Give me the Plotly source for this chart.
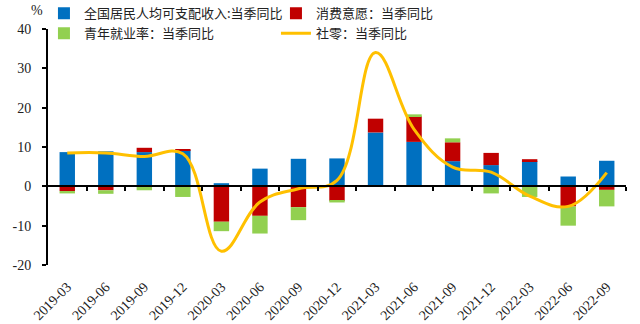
import plotly.graph_objects as go

quarters = ["2019-03", "2019-06", "2019-09", "2019-12", "2020-03", "2020-06", "2020-09",
            "2020-12", "2021-03", "2021-06", "2021-09", "2021-12", "2022-03", "2022-06", "2022-09"]
income = [8.7, 8.9, 8.7, 9.2, 0.8, 4.5, 7.0, 7.1, 13.7, 11.3, 6.4, 5.4, 6.4, 2.5, 6.5]
consume = [-1.2, -1.0, 1.1, 0.3, -9.0, -7.5, -5.3, -3.7, 3.5, 6.5, 4.8, 3.1, 0.5, -5.1, -0.9]
youth = [-0.6, -0.9, -1.0, -2.7, -2.4, -4.5, -3.3, -0.4, 0.0, 0.5, 1.0, -1.8, -2.7, -4.9, -4.2]
retail = [8.5, 8.5, 7.6, 8.3, -16.5, -4.0, -0.6, 1.5, 34.0, 14.5, 4.9, 3.6, -2.5, -5.1, 3.5]
y_ticks = [-20, -10, 0, 10, 20, 30, 40]
y_tick_labels = ["-20", "-10", "0", "10", "20", "30", "40"]

names = ["全国居民人均可支配收入:当季同比", "消费意愿：当季同比", "青年就业率：当季同比", "社零：当季同比"]
serif = "Liberation Serif, Times New Roman, serif"
cjk = "Noto Sans CJK SC"

fig = go.Figure()
fig.add_trace(go.Bar(x=quarters, y=income, name=names[0], marker_color="#0070C0", width=0.4,
                     marker_line_width=0))
fig.add_trace(go.Bar(x=quarters, y=consume, name=names[1], marker_color="#C00000", width=0.4,
                     marker_line_width=0))
fig.add_trace(go.Bar(x=quarters, y=youth, name=names[2], marker_color="#92D050", width=0.4,
                     marker_line_width=0))
fig.add_trace(go.Scatter(x=quarters, y=retail, name=names[3], mode="lines",
                         line=dict(color="#FFC000", width=3, shape="spline", smoothing=1.1)))

n = len(quarters)
boundaries = [i + 0.5 for i in range(n)]

fig.update_layout(
    width=640, height=324,
    margin=dict(l=48, r=14, t=29, b=59, autoexpand=False),
    paper_bgcolor="white", plot_bgcolor="white",
    barmode="relative",
    showlegend=True,
    legend=dict(orientation="h", x=-0.007, xanchor="left", y=1.13, yanchor="top",
                font=dict(family=cjk, size=13, color="#222"), entrywidth=187,
                bgcolor="rgba(0,0,0,0)", tracegroupgap=0, itemwidth=30),
    xaxis=dict(type="category", categoryorder="array", categoryarray=quarters,
               range=[-0.5, n - 0.5], showline=False, ticks="", showgrid=False,
               tickangle=-45, ticklabelstandoff=10,
               tickfont=dict(family=serif, size=14, color="#222")),
    xaxis2=dict(overlaying="x", anchor="free", position=1/3, range=[-0.5, n - 0.5],
                showline=True, linecolor="black", linewidth=2, ticks="outside",
                tickvals=boundaries, ticklen=4, tickwidth=2, tickcolor="black",
                showticklabels=False, showgrid=False, zeroline=False),
    yaxis=dict(range=[-20, 40], tickvals=y_ticks, ticktext=y_tick_labels,
               showline=True, linecolor="black", linewidth=2,
               ticks="outside", ticklen=4, tickwidth=2, tickcolor="black",
               showgrid=False, zeroline=False, ticklabelstandoff=8,
               tickfont=dict(family=serif, size=14, color="#222")),
    annotations=[dict(text="%", xref="paper", yref="paper", x=-0.005, y=1.04,
                      xanchor="right", yanchor="bottom", showarrow=False,
                      font=dict(family=serif, size=14, color="#222"))],
)
# invisible helper trace that activates the secondary axis carrying the zero-line ticks
fig.add_trace(go.Scatter(x=[0], y=[0], xaxis="x2", mode="markers", marker=dict(opacity=0),
                         showlegend=False, hoverinfo="skip"))

fig.write_html("out.html")
